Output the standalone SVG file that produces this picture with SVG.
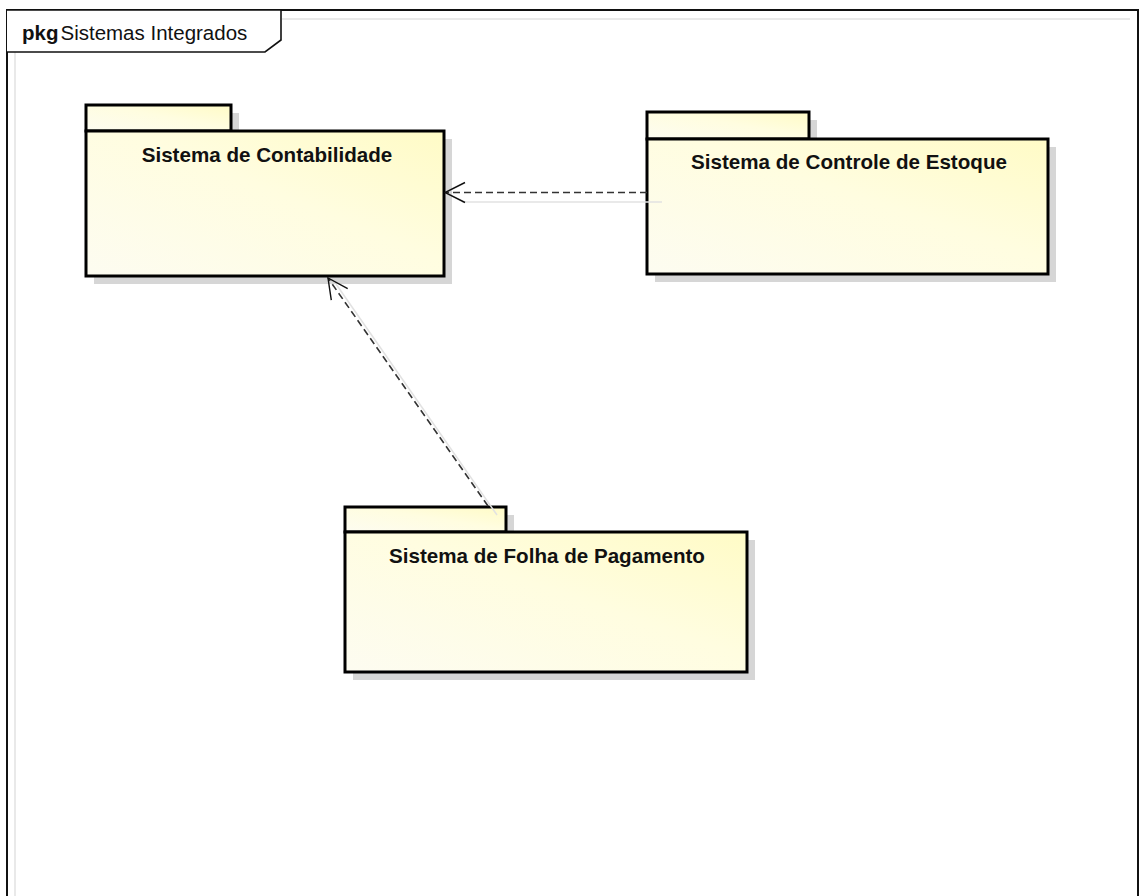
<svg xmlns="http://www.w3.org/2000/svg" width="1141" height="896" viewBox="0 0 1141 896">
  <defs>
    <linearGradient id="pkgFill" x1="0" y1="1" x2="1" y2="0">
      <stop offset="0" stop-color="#fdfcf1"/>
      <stop offset="0.55" stop-color="#fffde0"/>
      <stop offset="1" stop-color="#fffbc6"/>
    </linearGradient>
    <marker id="openArrow" markerUnits="userSpaceOnUse" markerWidth="24" markerHeight="24" refX="23" refY="11" orient="auto" viewBox="0 0 24 24">
      <path d="M3,1 L23,11 L3,21" fill="none" stroke="#111" stroke-width="1.4"/>
    </marker>
    <style>
      .frame { fill: #fff; stroke: #111; stroke-width: 2; }
      .shadow { fill: #d6d6d6; }
      .box { fill: url(#pkgFill); stroke: #000; stroke-width: 3; }
      .name { font-family: "Liberation Sans", Arial, sans-serif; font-size: 20.6px; font-weight: bold; fill: #111; text-anchor: middle; }
      .title { font-family: "Liberation Sans", Arial, sans-serif; font-size: 20.5px; fill: #111; }
      .dep { fill: none; stroke: #333; stroke-width: 1.6; stroke-dasharray: 7 4; }
      .ghost { fill: none; stroke: #e2e2e2; stroke-width: 1.5; }
    </style>
  </defs>

  <rect x="0" y="0" width="1141" height="896" fill="#fff"/>

  <!-- package frame -->
  <g id="frame">
    <rect class="frame" x="7" y="10" width="1131" height="900"/>
    <line class="ghost" x1="282" y1="19" x2="1130" y2="19"/>
    <line class="ghost" x1="15" y1="52" x2="15" y2="896"/>
    <path d="M7,10 H281 V40 L265,52 H7" fill="#fff" stroke="#111" stroke-width="1.6"/>
    <text class="title" x="22" y="40"><tspan font-weight="bold">pkg</tspan><tspan dx="2">Sistemas Integrados</tspan></text>
  </g>

  <!-- Sistema de Contabilidade -->
  <g id="pkg-contabilidade">
    <rect class="shadow" x="94" y="113" width="145" height="26"/>
    <rect class="shadow" x="94" y="139" width="358" height="145"/>
    <rect class="box" x="86" y="105" width="145" height="26"/>
    <rect class="box" x="86" y="131" width="358" height="145"/>
    <text class="name" x="267" y="162">Sistema de Contabilidade</text>
  </g>

  <!-- Sistema de Controle de Estoque -->
  <g id="pkg-estoque">
    <rect class="shadow" x="655" y="120" width="162" height="27"/>
    <rect class="shadow" x="655" y="147" width="401" height="135"/>
    <rect class="box" x="647" y="112" width="162" height="27"/>
    <rect class="box" x="647" y="139" width="401" height="135"/>
    <text class="name" x="849" y="169">Sistema de Controle de Estoque</text>
  </g>

  <!-- Sistema de Folha de Pagamento -->
  <g id="pkg-folha">
    <rect class="shadow" x="353" y="515" width="161" height="25"/>
    <rect class="shadow" x="353" y="540" width="402" height="140"/>
    <rect class="box" x="345" y="507" width="161" height="25"/>
    <rect class="box" x="345" y="532" width="402" height="140"/>
    <text class="name" x="547" y="563">Sistema de Folha de Pagamento</text>
  </g>

  <!-- dependency connectors, drawn over the package shadows -->
  <g id="connectors">
    <line class="ghost" x1="462" y1="202" x2="662" y2="202"/>
    <line class="ghost" x1="336" y1="284" x2="497" y2="515"/>
    <line class="dep" x1="647" y1="192.5" x2="445" y2="192.5" marker-end="url(#openArrow)"/>
    <line class="dep" x1="488" y1="506" x2="328" y2="278" marker-end="url(#openArrow)"/>
  </g>
</svg>
